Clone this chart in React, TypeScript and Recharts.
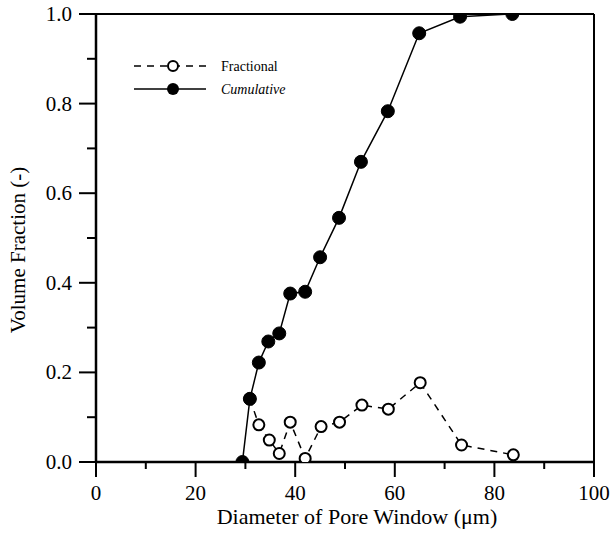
import React from 'react';
import { LineChart, Line, XAxis, YAxis, ReferenceLine, Customized } from 'recharts';

const cumDiameter = [29.4, 30.9, 32.7, 34.6, 36.8, 39.0, 42.0, 45.0, 48.8, 53.2, 58.6, 64.9, 73.1, 83.6];
const cumFraction = [0.0, 0.141, 0.222, 0.269, 0.287, 0.376, 0.38, 0.457, 0.545, 0.67, 0.783, 0.957, 0.994, 1.0];

const fracDiameter = [30.9, 32.7, 34.8, 36.8, 39.0, 42.0, 45.2, 48.9, 53.4, 58.7, 65.1, 73.4, 83.8];
const fracValue = [0.141, 0.083, 0.049, 0.019, 0.089, 0.008, 0.079, 0.089, 0.127, 0.118, 0.177, 0.038, 0.016];

const xTicks = [0, 10, 20, 30, 40, 50, 60, 70, 80, 90, 100];
const xLabeled = [0, 20, 40, 60, 80, 100];
const yTicks = [0, 0.1, 0.2, 0.3, 0.4, 0.5, 0.6, 0.7, 0.8, 0.9, 1.0];
const yLabeled = [0, 0.2, 0.4, 0.6, 0.8, 1.0];

const seriesNames = ['Fractional', 'Cumulative'];
const xTitle = 'Diameter of Pore Window (\u03bcm)';
const yTitle = 'Volume Fraction (-)';

const cumData = cumDiameter.map((d, i) => ({ d, v: cumFraction[i] }));
const fracData = fracDiameter.map((d, i) => ({ d, v: fracValue[i] }));

const FONT = '"Liberation Serif", "Times New Roman", Times, serif';
const txt = (size: number, extra: any = {}) => ({ fontFamily: FONT, fontSize: size, fill: '#000', ...extra });

const isLabeled = (arr: number[], v: number) => arr.some((a) => Math.abs(a - v) < 1e-6);

const XTick = (props: any) => {
  const { x, y, payload } = props;
  const major = isLabeled(xLabeled, payload.value);
  return (
    <g>
      <line x1={x} x2={x} y1={y} y2={y + (major ? 15 : 7)} stroke="#000" strokeWidth={2} />
      {major && (
        <text x={x} y={y + 38} textAnchor="middle" fontFamily={FONT} style={txt(21)}>
          {String(payload.value)}
        </text>
      )}
    </g>
  );
};

const YTick = (props: any) => {
  const { x, y, payload } = props;
  const major = isLabeled(yLabeled, payload.value);
  return (
    <g>
      <line x1={x} x2={x - (major ? 17 : 9)} y1={y} y2={y} stroke="#000" strokeWidth={2} />
      {major && (
        <text x={x - 24} y={y + 7} textAnchor="end" fontFamily={FONT} style={txt(21)}>
          {payload.value.toFixed(1)}
        </text>
      )}
    </g>
  );
};

const OpenDot = (p: any) => {
  if (p.cx == null || p.cy == null) return <g key={p.index} />;
  return <circle key={p.index} cx={p.cx} cy={p.cy} r={5.5} fill="#fff" stroke="#000" strokeWidth={2} />;
};

const FilledDot = (p: any) => {
  if (p.cx == null || p.cy == null) return <g key={p.index} />;
  return <circle key={p.index} cx={p.cx} cy={p.cy} r={6.5} fill="#000" stroke="#000" strokeWidth={1} />;
};

const LegendBox = () => (
  <g>
    <line x1={134} x2={206} y1={66} y2={66} stroke="#000" strokeWidth={1.5} strokeDasharray="7 6" />
    <circle cx={173} cy={66} r={5} fill="#fff" stroke="#000" strokeWidth={2} />
    <text x={221} y={71} style={txt(14)}>{seriesNames[0]}</text>
    <line x1={134} x2={206} y1={89} y2={89} stroke="#000" strokeWidth={1.5} />
    <circle cx={173} cy={89} r={6} fill="#000" />
    <text x={221} y={94} style={txt(14, { fontStyle: 'italic' })}>{seriesNames[1]}</text>
  </g>
);

const Titles = () => (
  <g>
    <text x={357} y={524} textAnchor="middle" style={txt(22)}>
      {xTitle}
    </text>
    <text x={25} y={250} transform="rotate(-90, 25, 250)" textAnchor="middle" style={txt(21)}>
      {yTitle}
    </text>
  </g>
);

export default function App() {
  return (
    <div style={{ position: 'absolute', left: 0, top: 0, fontFamily: FONT }}>
      <LineChart width={611} height={541} margin={{ top: 14, right: 17, bottom: 0, left: 0 }}>
        <XAxis
          type="number"
          dataKey="d"
          domain={[0, 100]}
          ticks={xTicks}
          interval={0}
          tickSize={0}
          tickMargin={0}
          tickLine={false}
          tick={<XTick />}
          height={79}
          axisLine={{ stroke: '#000', strokeWidth: 2.5 }}
          allowDataOverflow
        />
        <YAxis
          type="number"
          dataKey="v"
          domain={[0, 1]}
          ticks={yTicks}
          interval={0}
          tickSize={0}
          tickMargin={0}
          tickLine={false}
          tick={<YTick />}
          width={96}
          axisLine={{ stroke: '#000', strokeWidth: 2.5 }}
          allowDataOverflow
        />
        <ReferenceLine y={1} stroke="#000" strokeWidth={2} segment={[{ x: 0, y: 1 }, { x: 100, y: 1 }]} />
        <ReferenceLine x={100} stroke="#000" strokeWidth={2} />
        <Line
          data={fracData}
          dataKey="v"
          type="linear"
          stroke="#000"
          strokeWidth={1.5}
          strokeDasharray="7 6"
          dot={OpenDot}
          activeDot={false}
          isAnimationActive={false}
          name={seriesNames[0]}
        />
        <Line
          data={cumData}
          dataKey="v"
          type="linear"
          stroke="#000"
          strokeWidth={1.5}
          dot={FilledDot}
          activeDot={false}
          isAnimationActive={false}
          name={seriesNames[1]}
        />
        <Customized component={LegendBox} />
        <Customized component={Titles} />
      </LineChart>
    </div>
  );
}
